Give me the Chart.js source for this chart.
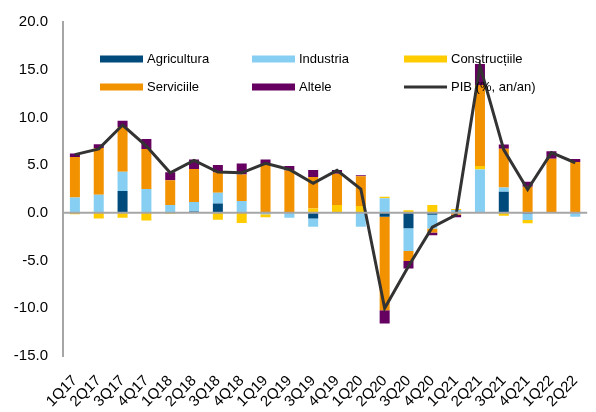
<!DOCTYPE html>
<html>
<head>
<meta charset="utf-8">
<script src="https://cdn.jsdelivr.net/npm/chart.js@4"></script>
<style>
  html, body { margin: 0; padding: 0; background: #fff; }
  #wrap { width: 596px; height: 412px; }
</style>
</head>
<body>
<div id="wrap"><canvas id="grafic"></canvas></div>
<script>
// trimestre
const trimestre = ['1Q17','2Q17','3Q17','4Q17','1Q18','2Q18','3Q18','4Q18','1Q19','2Q19','3Q19','4Q19',
                   '1Q20','2Q20','3Q20','4Q20','1Q21','2Q21','3Q21','4Q21','1Q22','2Q22'];

// contributii la cresterea PIB (pp)
const agricultura = [0, 0, 2.3, 0, 0.1, 0.15, 0.97, 0.05, 0, 0, -0.6, 0, 0, -0.4, -1.6, -0.2, 0, 0, 2.2, -0.1, 0, 0];
const industria = [1.6, 1.9, 2.0, 2.5, 0.73, 1.0, 1.15, 1.2, -0.15, -0.5, -0.85, 0, -1.45, 1.53, -2.4, -1.45, 0.3, 4.55, 0.45, -0.65, 0, -0.4];
const constructii = [-0.15, -0.6, -0.5, -0.8, -0.1, 0, -0.73, -1.05, -0.3, 0.1, 0.45, 0.83, 0.73, 0.17, 0.28, 0.83, 0.1, 0.35, -0.3, -0.35, 0.1, 0];
const servicii = [4.26, 4.9, 4.7, 4.2, 2.6, 3.45, 2.1, 2.78, 5.05, 4.35, 3.3, 3.27, 3.1, -9.8, -1.04, -0.42, -0.2, 8.5, 4.06, 2.74, 5.56, 5.34];
const altele = [0.35, 0.4, 0.65, 1.05, 0.83, 1.0, 0.8, 1.15, 0.55, 0.45, 0.75, 0.4, 0.1, -1.4, -0.8, -0.28, -0.25, 2.2, 0.45, 0.52, 0.8, 0.3];
const pib = [6.1, 6.7, 9.2, 7.0, 4.2, 5.5, 4.27, 4.2, 5.2, 4.55, 3.1, 4.45, 2.5, -10.0, -5.6, -1.5, -0.2, 15.4, 6.6, 2.45, 6.3, 5.25];

const yMin = -15, yMax = 20, yPas = 5;

Chart.defaults.font.family = '"Liberation Sans", Arial, sans-serif';
Chart.defaults.color = '#000';

function bara(label, data, culoare) {
  return { type: 'bar', label: label, data: data, backgroundColor: culoare, stack: 'c',
           barPercentage: 0.42, categoryPercentage: 1, order: 1 };
}

// legenda in interiorul graficului, doua randuri
const legendaInterna = {
  id: 'legendaInterna',
  afterDraw(chart) {
    const ctx = chart.ctx;
    const pozX = [100, 252, 404];
    const pozY = [59, 87];
    ctx.save();
    ctx.font = '13px "Liberation Sans", Arial, sans-serif';
    ctx.textBaseline = 'middle';
    chart.data.datasets.forEach((ds, k) => {
      const x = pozX[k % 3], y = pozY[Math.floor(k / 3)];
      if (ds.type === 'line') {
        ctx.strokeStyle = ds.borderColor;
        ctx.lineWidth = 3;
        ctx.beginPath(); ctx.moveTo(x, y); ctx.lineTo(x + 43, y); ctx.stroke();
      } else {
        ctx.fillStyle = ds.backgroundColor;
        ctx.fillRect(x, y - 3.5, 43, 7);
      }
      ctx.fillStyle = '#000';
      ctx.fillText(ds.label, x + 47, y);
    });
    ctx.restore();
  }
};

// linia de zero peste bare
const linieZero = {
  id: 'linieZero',
  afterDatasetsDraw(chart) {
    const ctx = chart.ctx, a = chart.chartArea;
    const y0 = chart.scales.y.getPixelForValue(0);
    ctx.save();
    ctx.strokeStyle = '#a6a6a6';
    ctx.lineWidth = 2;
    ctx.beginPath(); ctx.moveTo(a.left, y0); ctx.lineTo(a.right, y0); ctx.stroke();
    ctx.restore();
  }
};

new Chart(document.getElementById('grafic'), {
  data: {
    labels: trimestre,
    datasets: [
      bara('Agricultura', agricultura, '#004b7c'),
      bara('Industria', industria, '#87cff2'),
      bara('Construcțiile', constructii, '#ffcc00'),
      bara('Serviciile', servicii, '#f39200'),
      bara('Altele', altele, '#650061'),
      { type: 'line', label: 'PIB (%, an/an)', data: pib, borderColor: '#333333', borderWidth: 3,
        pointRadius: 0, tension: 0, stack: 'pib', order: 0 }
    ]
  },
  options: {
    responsive: true,
    maintainAspectRatio: false,
    animation: false,
    layout: { padding: { top: 22, right: 0, left: 0, bottom: 0 } },
    plugins: { legend: { display: false }, tooltip: { enabled: false } },
    scales: {
      x: {
        stacked: true,
        grid: { display: false },
        border: { display: false },
        ticks: { font: { size: 15 }, maxRotation: 45, minRotation: 45, padding: 8, autoSkip: false },
        afterFit(scale) { scale.height = 56; }
      },
      y: {
        stacked: true,
        min: yMin, max: yMax,
        ticks: { stepSize: yPas, font: { size: 15 }, padding: 15, callback: v => v.toFixed(1) },
        grid: { display: false, drawTicks: false },
        border: { display: true, color: '#a6a6a6', width: 2 },
        afterFit(scale) { scale.width = 63; scale.paddingTop = 0; scale.paddingBottom = 0; }
      }
    }
  },
  plugins: [legendaInterna, linieZero]
});
</script>
</body>
</html>
